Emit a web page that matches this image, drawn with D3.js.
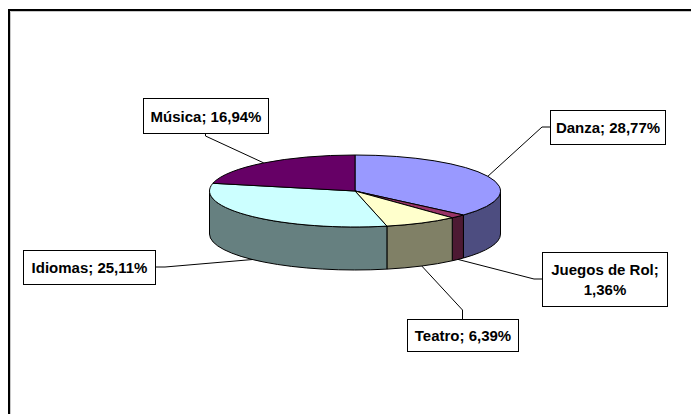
<!DOCTYPE html>
<html>
<head>
<meta charset="utf-8">
<script src="https://cdn.jsdelivr.net/npm/d3@7"></script>
<style>
  html, body { margin: 0; padding: 0; background: #fff; }
  svg { display: block; }
  .lbl { font-family: "Liberation Sans", Arial, sans-serif; font-weight: bold; font-size: 15px; fill: #000; }
</style>
</head>
<body>
<svg id="chart" width="691" height="414"></svg>
<script>
// Activity shares
const categories = ["Danza", "Juegos de Rol", "Teatro", "Idiomas", "Música"];
const values = [28.77, 1.36, 6.39, 25.11, 16.94];
const topColors = ["#9999FF", "#993366", "#FFFFCC", "#CCFFFF", "#660066"];

// Label boxes: [x, y, width, height, side the leader enters from]
const labelBoxes = [
  [550, 110, 115, 34, "left"],
  [542, 252, 125, 54, "left"],
  [407, 319, 111, 32, "top"],
  [23, 250, 132, 34, "right"],
  [143, 98, 125, 35, "bottom"]
];

const svg = d3.select("#chart");
const W = 691, H = 414;

svg.append("rect").attr("width", W).attr("height", H).attr("fill", "#fff");

// chart area frame
svg.append("rect")
  .attr("x", 9).attr("y", 10).attr("width", 720).attr("height", 440)
  .attr("fill", "none").attr("stroke", "#000").attr("stroke-width", 2);
svg.append("path")
  .attr("d", "M10.5,430 V11.5 H720")
  .attr("fill", "none").attr("stroke", "#c8c8c8").attr("stroke-width", 1);

// 3D pie geometry
const cx = 355, cy = 191, rx = 145.5, ry = 36, depth = 43;
const pt = (a, dy = 0) => [cx + rx * Math.sin(a), cy - ry * Math.cos(a) + dy];
const fmt = p => p[0].toFixed(2) + "," + p[1].toFixed(2);

const pie = d3.pie().sort(null).value(d => d);
const arcs = pie(values);

const shade = c => { const k = d3.rgb(c); return d3.rgb(k.r * 0.5, k.g * 0.5, k.b * 0.5).toString(); };

const g = svg.append("g");

// outer walls of the front half
arcs.forEach((a, i) => {
  const s = Math.max(a.startAngle, Math.PI / 2);
  const e = Math.min(a.endAngle, 3 * Math.PI / 2);
  if (s >= e) return;
  const large = (e - s) > Math.PI ? 1 : 0;
  const d = "M" + fmt(pt(s)) +
    " A" + rx + "," + ry + " 0 " + large + " 1 " + fmt(pt(e)) +
    " L" + fmt(pt(e, depth)) +
    " A" + rx + "," + ry + " 0 " + large + " 0 " + fmt(pt(s, depth)) + " Z";
  g.append("path").attr("d", d)
    .attr("fill", shade(topColors[i]))
    .attr("stroke", "#000").attr("stroke-width", 1).attr("stroke-linejoin", "round");
});

// top faces
arcs.forEach((a, i) => {
  const large = (a.endAngle - a.startAngle) > Math.PI ? 1 : 0;
  const d = "M" + cx + "," + cy +
    " L" + fmt(pt(a.startAngle)) +
    " A" + rx + "," + ry + " 0 " + large + " 1 " + fmt(pt(a.endAngle)) + " Z";
  g.append("path").attr("d", d)
    .attr("fill", topColors[i])
    .attr("stroke", "#000").attr("stroke-width", 1).attr("stroke-linejoin", "round");
});

// labels with leader lines
const pctText = v => v.toFixed(2).replace(".", ",") + "%";
arcs.forEach((a, i) => {
  const mid = (a.startAngle + a.endAngle) / 2;
  const front = Math.cos(mid) < 0;
  const anchor = pt(mid, front ? depth : 0);
  const [bx, by, bw, bh, side] = labelBoxes[i];
  let edge, elbow;
  if (side === "left") { edge = [bx, by + bh / 2]; elbow = [bx - 8, by + bh / 2]; }
  else if (side === "right") { edge = [bx + bw, by + bh / 2]; elbow = [bx + bw + 10, by + bh / 2]; }
  else if (side === "top") { edge = [bx + bw / 2, by]; elbow = [bx + bw / 2, by - 9]; }
  else { edge = [bx + bw / 2, by + bh]; elbow = [bx + bw / 2, by + bh + 3]; }

  svg.append("polyline")
    .attr("points", [anchor, elbow, edge].map(fmt).join(" "))
    .attr("fill", "none").attr("stroke", "#000").attr("stroke-width", 1);

  svg.append("rect")
    .attr("x", bx + 0.5).attr("y", by + 0.5).attr("width", bw).attr("height", bh)
    .attr("fill", "#fff").attr("stroke", "#000").attr("stroke-width", 1);

  const lines = categories[i] === "Juegos de Rol"
    ? [categories[i] + ";", pctText(values[i])]
    : [categories[i] + "; " + pctText(values[i])];
  const lh = 20;
  const t = svg.append("text").attr("class", "lbl").attr("text-anchor", "middle");
  lines.forEach((ln, k) => {
    t.append("tspan")
      .attr("x", bx + bw / 2 + 0.5)
      .attr("y", by + bh / 2 + 1 + (k - (lines.length - 1) / 2) * lh)
      .attr("dy", "0.35em")
      .text(ln);
  });
});
</script>
</body>
</html>
